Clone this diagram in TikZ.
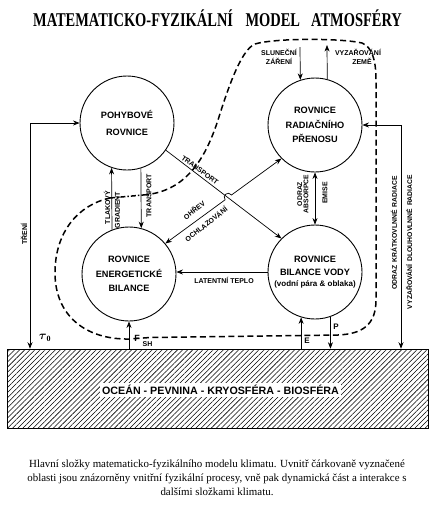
\documentclass[tikz,border=0pt]{standalone}
\usepackage{amsmath}
\usepackage{fontspec}
\setmainfont{Liberation Serif}
\setsansfont{Liberation Sans}
\usetikzlibrary{arrows.meta,patterns.meta,calc}
\begin{document}
\begin{tikzpicture}[x=1pt,y=-1pt,
  circ/.style={draw,circle,line width=0.9pt,minimum size=94pt,inner sep=0pt,align=center,
    font=\sffamily\bfseries\fontsize{9.2}{14.5}\selectfont},
  lbl/.style={font=\sffamily\bfseries\fontsize{7}{7}\selectfont,inner sep=0pt},
  tip/.tip={Stealth[length=6.5pt,width=5pt]},
  con/.style={line width=0.7pt,-tip},
  dcon/.style={line width=0.7pt,tip-tip},
  bound/.style={line width=1.5pt,dash pattern=on 6pt off 3.5pt},
]
\useasboundingbox (0,0) rectangle (429,507);

% title
\node[inner sep=0pt] (title) at (217.5,18) {\scalebox{0.74}[1]{\fontsize{19.5}{20}\selectfont\bfseries MATEMATICKO-FYZIKÁLNÍ\hspace{17pt}MODEL\hspace{15pt}ATMOSFÉRY}};

% ground
\node[draw,line width=0.9pt,pattern={Lines[angle=45,distance=3.6pt,line width=0.55pt]},
  minimum width=421pt,minimum height=79pt,inner sep=0pt] (gnd) at (217.5,388.5) {};
\node[fill=white,inner sep=2pt,font=\sffamily\bfseries\fontsize{10.7}{11}\selectfont] (gl) at (220.5,390) {OCEÁN - PEVNINA - KRYOSFÉRA - BIOSFÉRA};

% circles
\node[circ] (pohyb) at (127,123) {POHYBOVÉ\\[2pt]ROVNICE};
\node[circ] (radiac) at (315,125) {ROVNICE\\RADIAČNÍHO\\PŘENOSU};
\node[circ] (ener) at (129,274) {ROVNICE\\ENERGETICKÉ\\BILANCE};
\node[circ] (voda) at (315,272) {ROVNICE\\[-1.5pt]BILANCE\hspace{3pt}VODY\\[-3pt]{\fontsize{8}{8}\selectfont(vodní pára \& oblaka)}};

% dashed boundary
\draw[bound] (143,195) .. controls (185,192) and (205,160) .. (218,120)
  .. controls (226,95) and (240,50) .. (255,44)
  .. controls (275,38) and (340,38) .. (362,43)
  .. controls (372,47) and (376,60) .. (376,80) -- (376,300)
  .. controls (376,325) and (362,334) .. (338,335) -- (150,337.5)
  -- (130,339) .. controls (85,340) and (55,315) .. (55,273)
  .. controls (55,232) and (78,205) .. (110,198);
\draw[line width=1.5pt,dash pattern=on 5pt off 2pt on 1.5pt off 2pt] (110,198) -- (143,195);

% coordinates
\coordinate (tc) at (30,123);
\coordinate (rc) at (401,125);
\coordinate (s0) at (300,47);
\coordinate (z0) at (327,45);

% connectors
\draw[dcon] (pohyb.west) -- (tc) -- (tc |- gnd.north);
\draw[dcon] (radiac.east) -- (rc) -- (rc |- gnd.north);
\draw[con] (ener.111.2) -- (pohyb.251.4);
\draw[con] (pohyb.287.3) -- (ener.75.2);
\draw[con] (s0) -- (radiac.108.6);
\draw[con] (radiac.75.2) -- (z0);
\draw[dcon] (radiac.south) -- (voda.north);
\draw[con] (voda.west) -- (voda.west -| ener.east);
\draw[con] (ener.south |- gnd.north) -- (ener.south);
\draw[con] (voda.253.9 |- gnd.north) -- (voda.253.9);
\draw[con] (voda.289.9) -- (voda.289.9 |- gnd.north);
\draw[con] (pohyb.325) -- (voda.135);
\coordinate (h1) at (225.1,199.8);
\coordinate (h2) at (231.5,195.0);
\draw[dcon] (ener.40) -- (h1) .. controls (221.85,195.4) and (228.25,190.6) .. (h2) -- (radiac.225);

% labels
\node[lbl,rotate=90] (ltr) at (24,234) {TŘENÍ};
\node[inner sep=0pt] (ltau) at (45,338) {\fontsize{12}{12}\selectfont$\boldsymbol{\tau}_{\mathbf{0}}$};
\node[lbl,rotate=90] (ltl) at (107,207.5) {TLAKOVÝ};
\node[lbl,rotate=90] (lgr) at (117.5,210) {GRADIENT};
\node[lbl,rotate=90] (ltv) at (149,195.5) {TRANSPORT};
\node[lbl,rotate=-36] (ltd) at (200,170) {TRANSPORT};
\node[lbl,rotate=38] (loh) at (194,210) {OHŘEV};
\node[lbl,rotate=38] (loc) at (206,224) {OCHLAZOVÁNÍ};
\node[lbl] (lsl) at (279,52) {SLUNEČNÍ};
\node[lbl] (lza) at (279,61.5) {ZÁŘENÍ};
\node[lbl] (lvy) at (358,52) {VYZAŘOVÁNÍ};
\node[lbl] (lze) at (362,61.5) {ZEMĚ};
\node[lbl,rotate=90,align=center,font=\sffamily\bfseries\fontsize{6.8}{6.3}\selectfont] (lod) at (303,194) {ODRAZ\\ABSORPCE};
\node[lbl,rotate=90] (lem) at (325,193) {EMISE};
\node[lbl,font=\sffamily\bfseries\fontsize{6.8}{7}\selectfont,rotate=90] (lkr) at (394,233) {ODRAZ\hspace{3pt}KRÁTKOVLNNÉ\hspace{3pt}RADIACE};
\node[lbl,font=\sffamily\bfseries\fontsize{6.8}{7}\selectfont,rotate=90] (ldl) at (409,242) {VYZAŘOVÁNÍ\hspace{3pt}DLOUHOVLNNÉ\hspace{3pt}RADIACE};
\node[lbl] (lla) at (224,280) {LATENTNÍ\hspace{2pt}TEPLO};
\node[lbl,font=\sffamily\bfseries\fontsize{9}{9}\selectfont] (lf) at (137,338) {F};
\node[lbl] (lsh) at (147.5,344) {SH};
\node[lbl,font=\sffamily\bfseries\fontsize{8}{8}\selectfont] (le) at (307,341) {E};
\node[lbl,font=\sffamily\bfseries\fontsize{8}{8}\selectfont] (lp) at (336,327) {P};

% caption
\node[align=center,inner sep=0pt,font=\fontsize{10.9}{14}\selectfont] (cap) at (217,478)
 {Hlavní složky matematicko-fyzikálního modelu klimatu. Uvnitř čárkovaně vyznačené\\
  oblasti jsou znázorněny vnitřní fyzikální procesy, vně pak dynamická část a interakce s\\
  dalšími složkami klimatu.};
\end{tikzpicture}
\end{document}
